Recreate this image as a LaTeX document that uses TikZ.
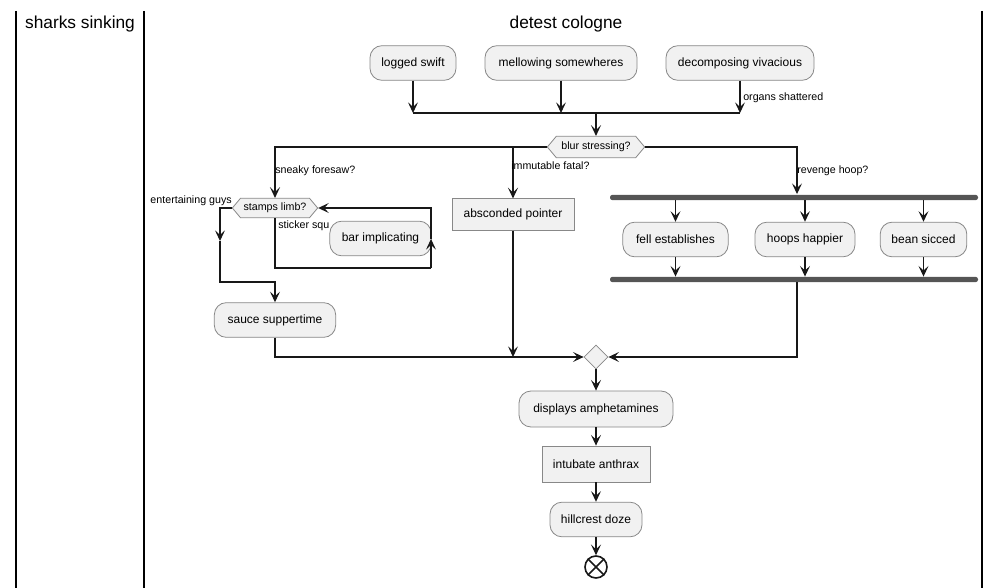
\documentclass[tikz,border=0pt]{standalone}
\usepackage{fontspec}
\setmainfont{Liberation Sans}
\usetikzlibrary{arrows.meta,shapes.geometric,shapes.symbols}
\definecolor{boxfill}{HTML}{F1F1F1}
\definecolor{boxdraw}{HTML}{888888}
\definecolor{lncol}{HTML}{181818}
\definecolor{barcol}{HTML}{555555}
\tikzset{
  act/.style={draw=boxdraw, fill=boxfill, rounded corners=9pt, minimum height=26pt, inner sep=0pt, line width=0.6pt, font=\fontsize{9}{11}\selectfont},
  rectbox/.style={draw=boxdraw, fill=boxfill, inner sep=0pt, line width=0.6pt, font=\fontsize{9}{11}\selectfont},
  hex/.style={signal, signal to=east and west, signal pointer angle=100, draw=boxdraw, fill=boxfill, inner sep=0pt, line width=0.6pt, font=\fontsize{8}{10}\selectfont},
  merge/.style={diamond, draw=boxdraw, fill=boxfill, minimum size=18pt, inner sep=0pt, line width=0.6pt},
  syncbar/.style={fill=barcol, rounded corners=1.8pt, minimum height=4pt, inner sep=0pt},
  arr/.style={draw=lncol, line width=0.8pt, -{Stealth[length=8pt,width=7.5pt,inset=3.5pt]}},
  ln/.style={draw=lncol, line width=0.8pt},
  lbl/.style={inner sep=0pt, font=\fontsize{8}{10}\selectfont},
  lane/.style={draw=black, line width=1.4pt},
  title/.style={inner sep=0pt, font=\fontsize{13}{15}\selectfont},
}
\begin{document}
\begin{tikzpicture}[x=0.75pt,y=-0.75pt]
\useasboundingbox (0,0) rectangle (1001,588);
% swimlanes
\coordinate (l1t) at (16,11);  \coordinate (l1b) at (16,588);
\coordinate (l2t) at (144,11); \coordinate (l2b) at (144,588);
\coordinate (l3t) at (982,11); \coordinate (l3b) at (982,588);
\draw[lane] (l1t) -- (l1b);
\draw[lane] (l2t) -- (l2b);
\draw[lane] (l3t) -- (l3b);
\node[title] (t1) at (80,24) {sharks sinking};
\node[title] (t2) at (566,24) {detest cologne};

% top activities
\node[act, minimum width=64.5pt] (ls) at (413,63) {logged swift};
\node[act, minimum width=114pt] (ms) at (561,63) {mellowing somewheres};
\node[act, minimum width=111pt] (dv) at (740,63) {decomposing vivacious};
\coordinate (j1) at (596,113);
\draw[arr] (ls.south) -- (ls.south |- j1);
\draw[arr] (ms.south) -- (ms.south |- j1);
\draw[arr] (dv.south) -- (dv.south |- j1);
\draw[ln] (ls.south |- j1) -- (dv.south |- j1);
\node[lbl, anchor=west] (os) at (743,98) {organs shattered};

% decision
\node[hex, minimum width=73pt, minimum height=16pt] (blur) at (596,147) {blur stressing?};
\draw[arr] (j1) -- (blur.north);

% left branch: stamps limb loop
\node[hex, minimum width=64pt, minimum height=14.5pt] (stamps) at (275,208) {stamps limb?};
\draw[arr] (blur.west) -| (stamps.north);
\node[lbl, anchor=west] (sf) at (275,171) {sneaky foresaw?};

\node[lbl, anchor=west] (ss) at (278,226) {sticker squ};
\node[act, minimum width=76pt] (bi) at (380.5,238.5) {bar implicating};
\coordinate (lp1) at (431,268);
\coordinate (lp2) at (431,239);
\draw[ln] (stamps.south) |- (lp1);
\draw[arr] (lp1) -- (lp2);
\draw[arr] (lp2) |- (stamps.east);

\node[lbl, anchor=east] (eg) at (232,201) {entertaining guys};
\coordinate (ega) at (220,241);
\coordinate (egb) at (220,282);
\node[act, minimum width=91pt] (sa) at (275,320) {sauce suppertime};
\draw[arr] (stamps.west) -| (ega);
\draw[arr] (ega) -- (egb) -| (sa.north);

% middle branch
\node[rectbox, minimum width=91.5pt, minimum height=23.5pt] (ab) at (513,214.5) {absconded pointer};
\draw[arr] (ab.north |- blur.west) -- (ab.north);
\node[lbl, anchor=west] (imf) at (511,166) {immutable fatal?};

% right branch: fork / join
\node[syncbar, minimum width=276pt] (fork) at (794,197.5) {};
\node[syncbar, minimum width=276pt] (join) at (794,279.5) {};
\coordinate (rv) at (797,197.5);
\coordinate (rj) at (797,279.5);
\draw[arr] (blur.east) -| ([yshift=0.4pt]rv |- fork.north);
\node[lbl, anchor=west] (rh) at (797,171) {revenge hoop?};
\node[act, minimum width=79pt] (fe) at (675.5,239.5) {fell establishes};
\node[act, minimum width=75pt] (hh) at (805,239.5) {hoops happier};
\node[act, minimum width=65pt] (bs) at (923.5,239.5) {bean sicced};
\foreach \n in {fe,hh,bs}{
  \draw[arr] (\n.north |- fork.south) -- (\n.north);
  \draw[arr] (\n.south) -- (\n.south |- join.north);
}

% merge
\node[merge] (mg) at (596,357) {};
\draw[arr] (rj |- join.south) |- (mg.east);
\draw[arr] (sa.south) |- (mg.west);
\draw[arr] (ab.south) -- (ab.south |- mg.west);

% bottom chain
\node[act, minimum width=115.5pt, minimum height=27pt] (da) at (596,409) {displays amphetamines};
\node[rectbox, minimum width=81pt, minimum height=27pt] (ia) at (596,464) {intubate anthrax};
\node[act, minimum width=69pt] (hd) at (596,519.5) {hillcrest doze};
\node[circle, draw=lncol, line width=1.2pt, minimum size=16.5pt, inner sep=0pt] (end) at (596,567) {};
\draw[lncol, line width=1.2pt] (end.north west) -- (end.south east) (end.north east) -- (end.south west);
\draw[arr] (mg.south) -- (da.north);
\draw[arr] (da.south) -- (ia.north);
\draw[arr] (ia.south) -- (hd.north);
\draw[arr] (hd.south) -- (end.north);
\end{tikzpicture}
\end{document}
